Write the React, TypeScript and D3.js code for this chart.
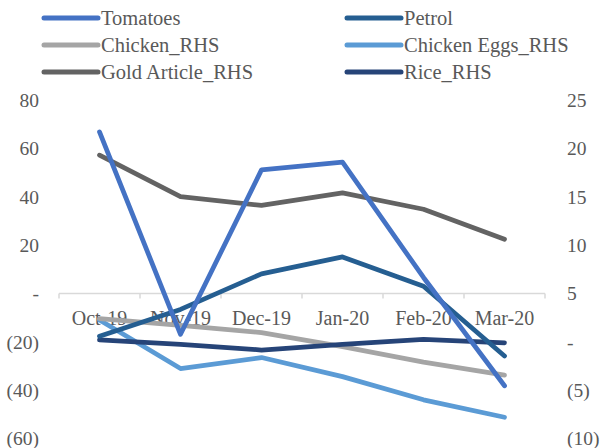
import React from "react";
import * as d3 from "d3";

const categories = ["Oct-19", "Nov-19", "Dec-19", "Jan-20", "Feb-20", "Mar-20"];
const tomatoes = [66.8, -16.9, 51.1, 54.3, 6.6, -38.2];
const petrol = [-17.7, -6.6, 8.1, 15.1, 3.0, -25.9];
const chickenRHS = [2.4, 1.7, 0.95, -0.5, -2.1, -3.45];
const chickenEggsRHS = [2.25, -2.77, -1.63, -3.6, -6.0, -7.8];
const goldRHS = [19.3, 15.0, 14.1, 15.4, 13.7, 10.6];
const riceRHS = [0.2, -0.26, -0.85, -0.26, 0.26, -0.1];
const leftTicks = [80, 60, 40, 20, 0, -20, -40, -60];
const rightTicks = [25, 20, 15, 10, 5, 0, -5, -10];

type S = { name: string; values: number[]; axis: "L" | "R"; color: string };
const series: S[] = [
  { name: "Tomatoes", values: tomatoes, axis: "L", color: "#4472C4" },
  { name: "Petrol", values: petrol, axis: "L", color: "#255E91" },
  { name: "Chicken_RHS", values: chickenRHS, axis: "R", color: "#A5A5A5" },
  { name: "Chicken Eggs_RHS", values: chickenEggsRHS, axis: "R", color: "#5B9BD5" },
  { name: "Gold Article_RHS", values: goldRHS, axis: "R", color: "#636363" },
  { name: "Rice_RHS", values: riceRHS, axis: "R", color: "#264478" },
];
const drawOrder = ["Chicken Eggs_RHS", "Chicken_RHS", "Rice_RHS", "Gold Article_RHS", "Petrol", "Tomatoes"];

const fmt = (v: number) => (v === 0 ? "-" : v < 0 ? `(${Math.abs(v)})` : `${v}`);

export default function App() {
  const W = 602, H = 448;
  const x0 = 59, x1 = 545;
  const x = d3.scaleBand<string>().domain(categories).range([x0, x1]);
  const yL = d3.scaleLinear().domain([-60, 80]).range([438.5, 100]);
  const yR = d3.scaleLinear().domain([-10, 25]).range([438.5, 100]);
  const font = "'Liberation Serif', serif";
  const txt = "#595959";
  const zeroY = yL(0);
  const ticksX = [...categories.map((c) => x(c)!), x1];

  return (
    <svg width={W} height={H} style={{ position: "absolute", left: 0, top: 0, fontFamily: font }}>
      <rect width={W} height={H} fill="#fff" />
      {series.map((s, i) => {
        const col = i % 2, row = Math.floor(i / 2);
        const lx = col === 0 ? 44 : 347;
        const ly = 18 + row * 27;
        return (
          <g key={s.name}>
            <line x1={lx} x2={lx + 54} y1={ly} y2={ly} stroke={s.color} strokeWidth={5} strokeLinecap="round" />
            <text x={lx + 57} y={ly} dy="0.35em" fontSize={20.5} fill={txt}>{s.name}</text>
          </g>
        );
      })}
      {leftTicks.map((t) => (
        <text key={"l" + t} x={39} y={yL(t)} dy="0.35em" textAnchor="end" fontSize={19.5} fill={txt}>{fmt(t)}</text>
      ))}
      {rightTicks.map((t) => (
        <text key={"r" + t} x={567} y={yR(t)} dy="0.35em" textAnchor="start" fontSize={19.5} fill={txt}>{fmt(t)}</text>
      ))}
      <line x1={x0} x2={x1} y1={zeroY} y2={zeroY} stroke="#D9D9D9" strokeWidth={1.5} />
      {ticksX.map((tx, i) => (
        <line key={"t" + i} x1={tx} x2={tx} y1={zeroY} y2={zeroY + 5} stroke="#D9D9D9" strokeWidth={1.5} />
      ))}
      {categories.map((c) => (
        <text key={c} x={x(c)! + x.bandwidth() / 2} y={zeroY + 25} dy="0.35em" textAnchor="middle" fontSize={20} fill={txt}>{c}</text>
      ))}
      {drawOrder.map((n) => {
        const s = series.find((q) => q.name === n)!;
        const ys = s.axis === "L" ? yL : yR;
        const gen = d3
          .line<number>()
          .x((_, i) => x(categories[i])! + x.bandwidth() / 2)
          .y((v) => ys(v));
        return (
          <path key={n} d={gen(s.values)!} fill="none" stroke={s.color} strokeWidth={4.75} strokeLinejoin="round" strokeLinecap="round" />
        );
      })}
    </svg>
  );
}
